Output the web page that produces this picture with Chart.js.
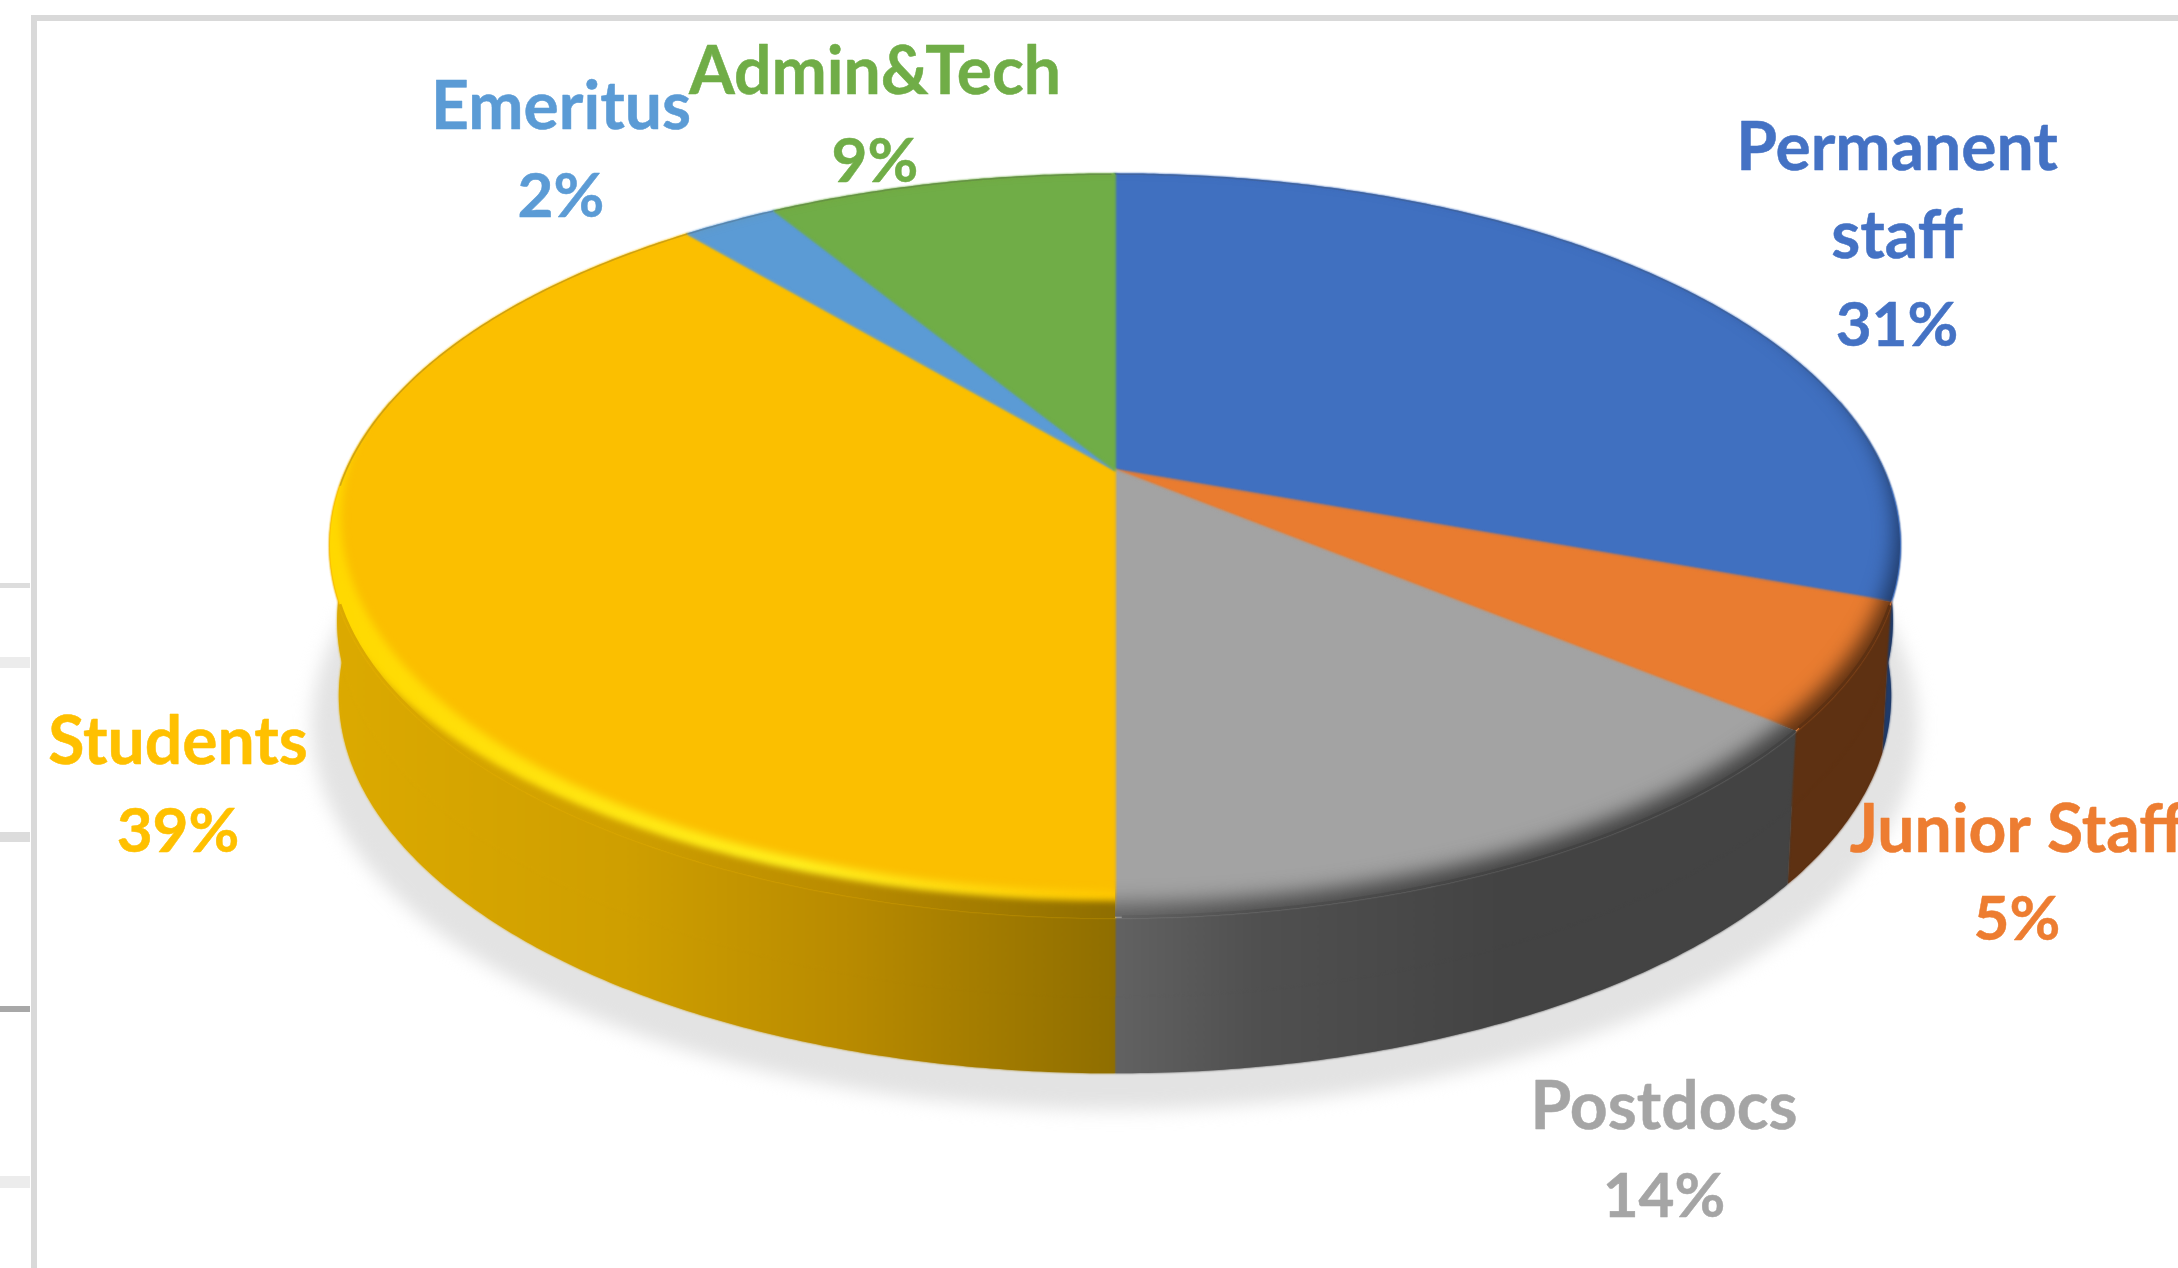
<!DOCTYPE html>
<html>
<head>
<meta charset="utf-8">
<title>Staff breakdown</title>
<script src="https://cdn.jsdelivr.net/npm/chart.js@4/dist/chart.umd.min.js"></script>
<style>
    html, body { margin: 0; padding: 0; background: #ffffff; }
    canvas { display: block; }
</style>
</head>
<body>
<canvas id="staffPie" width="2178" height="1268"></canvas>
<script>
const categories = [['Permanent', 'staff'], ['Junior Staff'], ['Postdocs'], ['Students'], ['Emeritus'], ['Admin&Tech']];
const shares = [30.6, 5.4, 14, 38.9, 2.4, 8.7];
const sliceColors = ['#4070c0', '#e97c30', '#a3a3a3', '#fbbf00', '#5b9bd5', '#70ad47'];
const labelColors = ['#4472c4', '#ed7d31', '#a5a5a5', '#ffc000', '#5b9bd5', '#70ad47'];
// label centre x and first baseline
const labelAnchors = [[1897, 170], [2017, 852], [1664, 1129], [178, 764], [561, 129], [875, 94]];
const frameStubs = [[583, 5, '#dddddd'], [657, 11, '#ececec'], [832, 10, '#dcdcdc'], [1006, 6, '#a8a8a8'], [1176, 12, '#ececec']];

// the pie is seen in perspective, so the centre sits above the middle of the ellipse
const TILT = 0.2032;
const TOP_FACE = { sx: 768.6, sy: 356, dy: 0 };
const MID_FACE = { sx: 761.7, sy: 359.5, dy: 75 };
const BOTTOM_FACE = { sx: 760, sy: 362, dy: 149 };

function project(arc, angle, face) {
    const u = Math.cos(angle);
    const v = Math.sin(angle);
    const d = 1 - TILT * v;
    return { x: arc.x + face.sx * u / d, y: arc.y + face.dy + face.sy * v / d };
}

function traceSector(ctx, arc, face) {
    const step = Math.PI / 360;
    ctx.beginPath();
    ctx.moveTo(arc.x, arc.y + face.dy);
    for (let a = arc.startAngle; a < arc.endAngle; a += step) {
        const p = project(arc, a, face);
        ctx.lineTo(p.x, p.y);
    }
    const end = project(arc, arc.endAngle, face);
    ctx.lineTo(end.x, end.y);
    ctx.closePath();
}

function wallFill(ctx, index) {
    if (index === 0) return '#1f3a68';
    if (index === 1) return '#5e3112';
    const g = ctx.createLinearGradient(330, 0, 1800, 0);
    if (index === 2) {
        g.addColorStop(0.533, '#626262');
        g.addColorStop(0.63, '#505050');
        g.addColorStop(0.8, '#434343');
        g.addColorStop(1, '#434343');
        return g;
    }
    g.addColorStop(0, '#dcaa00');
    g.addColorStop(0.2, '#cf9f00');
    g.addColorStop(0.35, '#b98b00');
    g.addColorStop(0.534, '#8f6e00');
    return g;
}

function drawWallBetween(ctx, arc, index, upper, lower) {
    // only the part turned towards the viewer, the back is hidden by the top face
    const from = Math.max(arc.startAngle, -0.2);
    const to = Math.min(arc.endAngle, Math.PI + 0.2);
    if (from >= to) return;
    const step = Math.PI / 360;
    ctx.beginPath();
    for (let a = from; a < to; a += step) {
        const p = project(arc, a, upper);
        ctx.lineTo(p.x, p.y);
    }
    const topEnd = project(arc, to, upper);
    ctx.lineTo(topEnd.x, topEnd.y);
    for (let a = to; a > from; a -= step) {
        const p = project(arc, a, lower);
        ctx.lineTo(p.x, p.y);
    }
    const lowEnd = project(arc, from, lower);
    ctx.lineTo(lowEnd.x, lowEnd.y);
    ctx.closePath();
    ctx.fillStyle = wallFill(ctx, index);
    ctx.fill();
}

function drawWall(ctx, arc, index) {
    drawWallBetween(ctx, arc, index, TOP_FACE, BOTTOM_FACE);
    drawWallBetween(ctx, arc, index, TOP_FACE, MID_FACE);
}

function drawFlatFace(ctx, arc) {
    traceSector(ctx, arc, TOP_FACE);
    ctx.fillStyle = arc.options.backgroundColor;
    ctx.strokeStyle = arc.options.backgroundColor;
    ctx.lineWidth = 1.5;
    ctx.fill();
    ctx.stroke();
}

// everything outside the flat part of the face, inside this slice
function fillOutsideEllipse(ctx, chart, fill, blur, cx, cy, rx, ry) {
    ctx.filter = `blur(${blur}px)`;
    ctx.fillStyle = fill;
    ctx.beginPath();
    ctx.rect(-100, -100, chart.width + 200, chart.height + 200);
    ctx.ellipse(cx, cy, rx, ry, 0, 0, Math.PI * 2);
    ctx.fill('evenodd');
}

function drawRim(ctx, arc, index, chart) {
    ctx.save();
    traceSector(ctx, arc, TOP_FACE);
    ctx.clip();
    if (index === 3) {
        // students slice has a lit bevel
        const bright = ctx.createLinearGradient(330, 0, 1115, 0);
        bright.addColorStop(0, '#ffd800');
        bright.addColorStop(0.6, '#fff01e');
        bright.addColorStop(1, '#ffc800');
        fillOutsideEllipse(ctx, chart, bright, 4, arc.x, arc.y + 48, 774, 373);
        fillOutsideEllipse(ctx, chart, wallFill(ctx, index), 3, arc.x, arc.y + 58, 800, 373);
    } else {
        fillOutsideEllipse(ctx, chart, wallFill(ctx, index), 10, arc.x, arc.y + 60, 780, 373);
    }
    ctx.restore();
}

function strokeOuterEdge(ctx, arc, keep, style, width) {
    const step = Math.PI / 360;
    ctx.beginPath();
    let started = false;
    for (let a = arc.startAngle; a < arc.endAngle; a += step) {
        if (!keep(a)) continue;
        const p = project(arc, a, TOP_FACE);
        if (started) ctx.lineTo(p.x, p.y);
        else ctx.moveTo(p.x, p.y);
        started = true;
    }
    ctx.strokeStyle = style;
    ctx.lineWidth = width;
    ctx.stroke();
}

const pie3d = {
    id: 'pie3d',
    beforeDraw(chart) {
        const ctx = chart.ctx;
        ctx.save();
        ctx.fillStyle = '#ffffff';
        ctx.fillRect(0, 0, chart.width, chart.height);
        // frame of the slide the chart was pasted from
        ctx.fillStyle = '#d9d9d9';
        ctx.fillRect(31, 15, chart.width - 31, 6);
        ctx.fillRect(31, 15, 6, chart.height - 15);
        frameStubs.forEach(([y, h, color]) => {
            ctx.fillStyle = color;
            ctx.fillRect(0, y, 30, h);
        });
        ctx.restore();
    },
    beforeDatasetsDraw(chart) {
        const ctx = chart.ctx;
        const arcs = chart.getDatasetMeta(0).data;

        // ground shadow
        ctx.save();
        ctx.filter = 'blur(9px)';
        ctx.fillStyle = '#e3e3e3';
        ctx.beginPath();
        ctx.ellipse(arcs[0].x, arcs[0].y + 255, 803, 385, 0, 0, Math.PI * 2);
        ctx.fill();
        ctx.restore();

        arcs.forEach((arc, i) => drawWall(ctx, arc, i));
        ctx.save();
        ctx.filter = 'blur(1px)';
        arcs.forEach((arc, i) => drawWall(ctx, arc, i));
        ctx.restore();

        arcs.forEach(arc => drawFlatFace(ctx, arc));
        ctx.save();
        ctx.filter = 'blur(1.2px)';
        arcs.forEach(arc => drawFlatFace(ctx, arc));
        ctx.restore();

        arcs.forEach((arc, i) => drawRim(ctx, arc, i, chart));

        // hide the flat colour peeking out along the front edge
        arcs.forEach((arc, i) => strokeOuterEdge(ctx, arc, a => Math.sin(a) > 0.35, wallFill(ctx, i), 3));
        arcs.forEach(arc => strokeOuterEdge(ctx, arc, a => Math.sin(a) < 0.05, 'rgba(70, 70, 70, 0.25)', 1.5));
        return false;
    },
    afterDraw(chart) {
        const ctx = chart.ctx;
        ctx.save();
        ctx.textAlign = 'center';
        ctx.textBaseline = 'alphabetic';
        ctx.lineJoin = 'round';
        ctx.lineWidth = 0.5;
        ctx.filter = 'blur(0.6px)';
        categories.forEach((lines, i) => {
            const [x, y] = labelAnchors[i];
            ctx.fillStyle = labelColors[i];
            ctx.strokeStyle = labelColors[i];
            ctx.font = 'bold 66px Lato, "Open Sans", sans-serif';
            lines.forEach((text, row) => {
                ctx.fillText(text, x, y + row * 88);
                ctx.strokeText(text, x, y + row * 88);
            });
            const percent = Math.round(shares[i]) + '%';
            ctx.font = 'bold 62px Lato, "Open Sans", sans-serif';
            ctx.fillText(percent, x, y + lines.length * 88);
            ctx.strokeText(percent, x, y + lines.length * 88);
        });
        ctx.restore();
    }
};

new Chart(document.getElementById('staffPie'), {
    type: 'pie',
    data: {
        labels: categories,
        datasets: [{
            data: shares,
            backgroundColor: sliceColors,
            borderWidth: 0
        }]
    },
    options: {
        responsive: false,
        animation: false,
        layout: {
            padding: { left: 52, bottom: 328 }
        },
        plugins: {
            legend: { display: false },
            tooltip: { enabled: false }
        }
    },
    plugins: [pie3d]
});
</script>
</body>
</html>
